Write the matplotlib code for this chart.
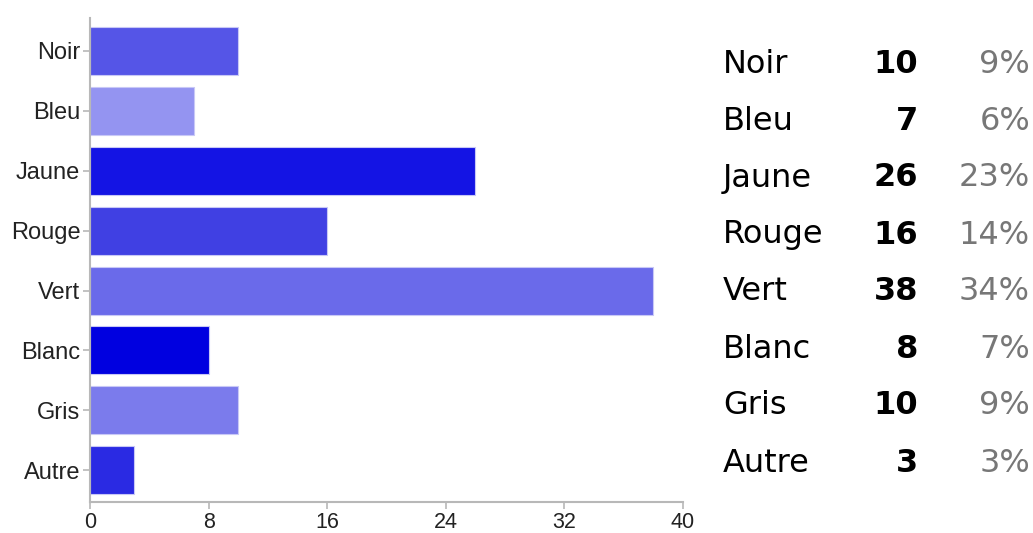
import matplotlib
matplotlib.use("Agg")
import matplotlib.pyplot as plt

categories = ["Noir", "Bleu", "Jaune", "Rouge", "Vert", "Blanc", "Gris", "Autre"]
counts = [10, 7, 26, 16, 38, 8, 10, 3]
percents = ["9%", "6%", "23%", "14%", "34%", "7%", "9%", "3%"]
colors = ["#5555E7", "#9494F1", "#1414E4", "#4040E3", "#6A6AEA", "#0000E0", "#7B7BEC", "#2A2AE3"]
xticks = [0, 8, 16, 24, 32, 40]

W, H = 1033, 533
fig = plt.figure(figsize=(W / 100, H / 100), dpi=100)
ax = fig.add_axes([90 / W, 1 - 502 / H, (683 - 90) / W, (502 - 18) / H])

ypos = list(range(len(categories)))
ax.barh(ypos, counts, height=0.8, color=colors, edgecolor="#c8c8f6", linewidth=0.8)
ax.set_ylim(7.53, -0.55)
ax.set_xlim(0, 40)
ax.set_xticks(xticks)
ax.set_yticks(ypos)
ax.set_yticklabels(categories)
for s in ["top", "right"]:
    ax.spines[s].set_visible(False)
for s in ["left", "bottom"]:
    ax.spines[s].set_color("#b8b8b8")
    ax.spines[s].set_linewidth(1.5)
ax.tick_params(axis="y", colors="#b8b8b8", labelcolor="#222222", length=5, width=1.2,
               labelsize=17, pad=2)
ax.tick_params(axis="x", colors="#b8b8b8", labelcolor="#222222", length=5, width=1.2,
               labelsize=15.5, pad=2.5)
for lab in ax.get_xticklabels() + ax.get_yticklabels():
    lab.set_family("Liberation Sans")

# right-hand table
y0, dy = 64, 57
for i, (c, n, p) in enumerate(zip(categories, counts, percents)):
    y = 1 - (y0 + i * dy) / H
    fig.text(723 / W, y, c, fontsize=23, family="DejaVu Sans", color="black", va="center", ha="left")
    fig.text(918 / W, y, str(n), fontsize=23, family="DejaVu Sans", weight="bold", color="black",
             va="center", ha="right")
    fig.text(1030 / W, y, p, fontsize=23, family="DejaVu Sans", color="#777777", va="center", ha="right")

fig.savefig("out.png", dpi=100)
